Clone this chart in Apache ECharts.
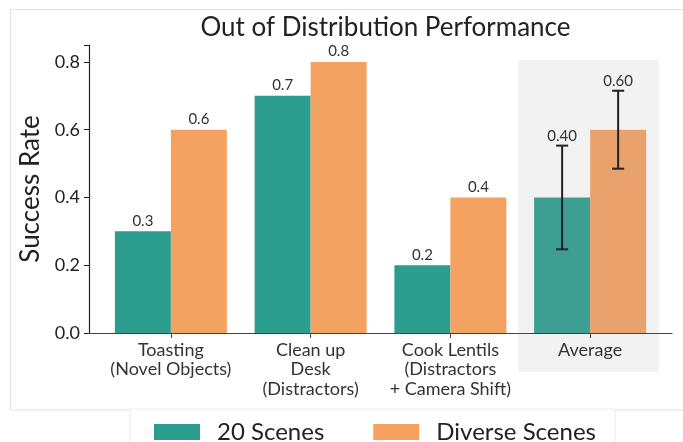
<!DOCTYPE html>
<html>
<head>
<meta charset="utf-8">
<script src="https://cdn.jsdelivr.net/npm/echarts@6/dist/echarts.min.js"></script>
<style>html,body{margin:0;padding:0;background:#fff}#c{width:683px;height:442px}</style>
</head>
<body>
<div id="c"></div>
<script>
const categories = ['Toasting\n(Novel Objects)', 'Clean up\nDesk\n(Distractors)', 'Cook Lentils\n(Distractors\n+ Camera Shift)', 'Average'];
const scenes20 = [0.3, 0.7, 0.2, 0.40];
const diverse = [0.6, 0.8, 0.4, 0.60];
const errors20 = [null, null, null, 0.153];
const errorsDiverse = [null, null, null, 0.115];
const yTicks = [0.0, 0.2, 0.4, 0.6, 0.8];
const highlightCategory = 3;
const highlightRange = [-0.114, 0.806];
const seriesNames = ['20 Scenes', 'Diverse Scenes'];

const TEAL = '#2a9d8f', ORANGE = '#f4a261';
const TEAL_AVG = '#3c9f91', ORANGE_AVG = '#eaa26c';
const BAR_W = 56;
const FONT = 'Lato';

const chart = echarts.init(document.getElementById('c'));

function barData(vals, avgColor) {
  return vals.map((v, i) => i === highlightCategory ? { value: v, itemStyle: { color: avgColor } } : v);
}
const errData = [];
[errors20, errorsDiverse].forEach((arr, s) => {
  arr.forEach((e, i) => {
    if (e != null) errData.push([i, s === 0 ? scenes20[i] : diverse[i], e, s]);
  });
});

const Y = { min: 0, max: 0.85, interval: 0.2 };

chart.setOption({
  animation: false,
  textStyle: { fontFamily: FONT },
  title: {
    text: 'Out of Distribution Performance',
    left: 380.5, top: 10, textAlign: 'center',
    textStyle: { fontFamily: FONT, fontSize: 26, fontWeight: 'normal', color: '#222' }
  },
  graphic: [{
    type: 'rect', z: -10, silent: true,
    shape: { x: 10.5, y: 9.5, width: 720, height: 400.5 },
    style: { fill: 'none', stroke: '#e2e2e2', lineWidth: 1 }
  }],
  legend: {
    data: seriesNames,
    left: 130, top: 409,
    padding: [11, 19, 20, 24],
    backgroundColor: '#fff', borderColor: '#ebebeb', borderWidth: 1,
    itemWidth: 46, itemHeight: 16, itemGap: 49, icon: 'rect',
    textStyle: { fontFamily: FONT, fontSize: 24, color: '#222', padding: [0, 0, 0, 12] }
  },
  grid: [
    { left: 89, right: 11, top: 45, bottom: 109 },
    { left: 101, width: 559, top: 45, bottom: 109 }
  ],
  xAxis: [
    { gridIndex: 0, type: 'value', min: 0, max: 1, z: 4,
      axisLine: { show: true, onZero: false, lineStyle: { color: '#444', width: 1.2 } },
      axisTick: { show: false }, axisLabel: { show: false }, splitLine: { show: false } },
    { gridIndex: 1, type: 'category', data: categories, z: 4,
      axisLine: { show: false },
      axisTick: { show: true, alignWithLabel: true, length: 5, lineStyle: { color: '#444' } },
      axisLabel: { fontFamily: FONT, fontSize: 18, color: '#333', lineHeight: 19.5, margin: 7, interval: 0 } }
  ],
  yAxis: [
    { gridIndex: 0, type: 'value', min: Y.min, max: Y.max, interval: Y.interval,
      name: 'Success Rate', nameLocation: 'middle', nameGap: 45,
      nameTextStyle: { fontFamily: FONT, fontSize: 26, color: '#222' },
      axisLine: { show: true, lineStyle: { color: '#222', width: 1.2 } },
      axisTick: { show: true, length: 5, lineStyle: { color: '#222' } },
      axisLabel: { fontFamily: FONT, fontSize: 18, color: '#222', margin: 9,
        formatter: v => yTicks.some(t => Math.abs(t - v) < 1e-6) ? v.toFixed(1) : '' },
      splitLine: { show: false } },
    { gridIndex: 1, type: 'value', min: Y.min, max: Y.max, interval: Y.interval, show: false }
  ],
  series: [
    {
      type: 'custom', xAxisIndex: 1, yAxisIndex: 1, z: 1, clip: false, silent: true,
      data: [[highlightCategory]],
      renderItem: (params, api) => {
        const bw = api.size([1, 0])[0];
        const top = api.coord([api.value(0), highlightRange[1]]);
        const bot = api.coord([api.value(0), highlightRange[0]]);
        return { type: 'rect', shape: { x: top[0] - bw / 2 - 2, y: top[1], width: bw + 1, height: bot[1] - top[1] },
          style: { fill: '#f2f2f2' } };
      }
    },
    {
      name: seriesNames[0], type: 'bar', xAxisIndex: 1, yAxisIndex: 1, z: 2,
      barWidth: BAR_W, barGap: '0%', itemStyle: { color: TEAL },
      data: barData(scenes20, TEAL_AVG),
      label: { show: true, position: 'top', distance: 3, fontFamily: FONT, fontSize: 15, color: '#333',
        formatter: p => p.dataIndex === highlightCategory ? '' : Number(p.value).toFixed(1) }
    },
    {
      name: seriesNames[1], type: 'bar', xAxisIndex: 1, yAxisIndex: 1, z: 2,
      barWidth: BAR_W, barGap: '0%', itemStyle: { color: ORANGE },
      data: barData(diverse, ORANGE_AVG),
      label: { show: true, position: 'top', distance: 3, fontFamily: FONT, fontSize: 15, color: '#333',
        formatter: p => p.dataIndex === highlightCategory ? '' : Number(p.value).toFixed(1) }
    },
    {
      type: 'custom', xAxisIndex: 1, yAxisIndex: 1, z: 5, silent: true, clip: false,
      data: errData,
      renderItem: (params, api) => {
        const i = api.value(0), m = api.value(1), e = api.value(2), s = api.value(3);
        const off = (s - 0.5) * BAR_W;
        const hi = api.coord([i, m + e]);
        const lo = api.coord([i, m - e]);
        const x = hi[0] + off;
        const st = { stroke: '#222', lineWidth: 2 };
        return { type: 'group', children: [
          { type: 'line', shape: { x1: x, y1: hi[1], x2: x, y2: lo[1] }, style: st },
          { type: 'line', shape: { x1: x - 6, y1: hi[1], x2: x + 6, y2: hi[1] }, style: st },
          { type: 'line', shape: { x1: x - 6, y1: lo[1], x2: x + 6, y2: lo[1] }, style: st },
          { type: 'text', x: x, y: hi[1] - 2, style: { text: m.toFixed(2), fontFamily: FONT, fontSize: 15, fill: '#333', align: 'center', verticalAlign: 'bottom' } }
        ]};
      }
    }
  ]
});
</script>
</body>
</html>
